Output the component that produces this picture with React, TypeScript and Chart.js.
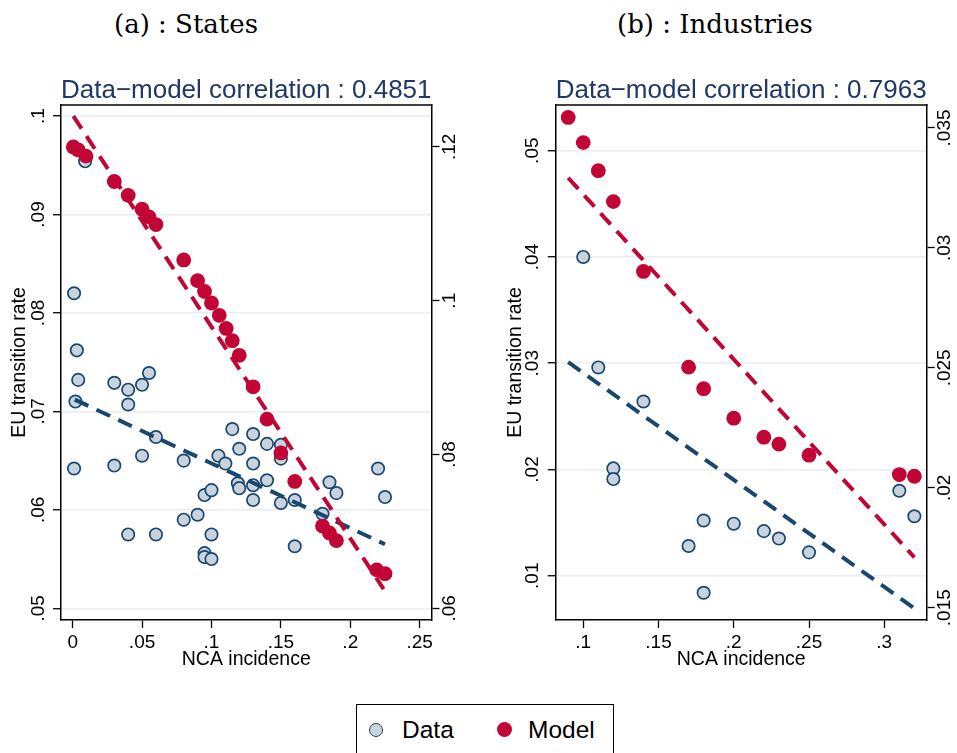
import React, { useEffect, useRef } from "react";
import { Chart, registerables } from "chart.js";
Chart.register(...registerables);

// ---------- Panel (a): States ----------
const statesDataX = [0.009, 0.001, 0.003, 0.004, 0.002, 0.001, 0.030, 0.040, 0.040, 0.050, 0.055, 0.030, 0.050, 0.060, 0.040, 0.060, 0.080, 0.080, 0.090, 0.095, 0.100, 0.100, 0.095, 0.095, 0.100, 0.105, 0.110, 0.115, 0.120, 0.119, 0.120, 0.130, 0.130, 0.130, 0.130, 0.140, 0.140, 0.150, 0.150, 0.150, 0.160, 0.160, 0.180, 0.185, 0.190, 0.220, 0.225];
const statesDataY = [0.0954, 0.0820, 0.0762, 0.0732, 0.0710, 0.0642, 0.0729, 0.0722, 0.0707, 0.0727, 0.0739, 0.0645, 0.0655, 0.0674, 0.0575, 0.0575, 0.0650, 0.0590, 0.0595, 0.0615, 0.0620, 0.0575, 0.0556, 0.0552, 0.0550, 0.0655, 0.0647, 0.0682, 0.0662, 0.0627, 0.0622, 0.0677, 0.0647, 0.0625, 0.0610, 0.0667, 0.0630, 0.0666, 0.0652, 0.0607, 0.0563, 0.0610, 0.0596, 0.0628, 0.0617, 0.0642, 0.0613];
const statesModelX = [0.0005, 0.004, 0.0096, 0.030, 0.040, 0.050, 0.055, 0.060, 0.080, 0.090, 0.095, 0.100, 0.1056, 0.1106, 0.115, 0.120, 0.130, 0.140, 0.150, 0.160, 0.180, 0.185, 0.190, 0.219, 0.225];
const statesModelY = [0.1200, 0.1196, 0.1188, 0.1155, 0.1137, 0.1119, 0.1109, 0.1099, 0.1053, 0.1026, 0.1012, 0.0997, 0.0981, 0.0964, 0.0948, 0.0929, 0.0888, 0.0846, 0.0802, 0.0765, 0.0707, 0.0698, 0.0688, 0.0650, 0.0645];
const statesDataFitX = [0.0015, 0.225];
const statesDataFitY = [0.0712, 0.0565];
const statesModelFitX = [0.0005, 0.224];
const statesModelFitY = [0.124, 0.0625];
const statesXTicks = [0, 0.05, 0.1, 0.15, 0.2, 0.25];
const statesXTickLabels = ["0", ".05", ".1", ".15", ".2", ".25"];
const statesLeftTicks = [0.05, 0.06, 0.07, 0.08, 0.09, 0.1];
const statesLeftTickLabels = [".05", ".06", ".07", ".08", ".09", ".1"];
const statesRightTicks = [0.06, 0.08, 0.1, 0.12];
const statesRightTickLabels = [".06", ".08", ".1", ".12"];
const statesTitle = "(a) : States";
const statesCorr = "Data\u2212model correlation : 0.4851";

// ---------- Panel (b): Industries ----------
const indDataX = [0.10, 0.11, 0.14, 0.12, 0.12, 0.17, 0.18, 0.18, 0.20, 0.22, 0.23, 0.25, 0.31, 0.32];
const indDataY = [0.0400, 0.0296, 0.0264, 0.0201, 0.0191, 0.0128, 0.0152, 0.0084, 0.0149, 0.0142, 0.0135, 0.0122, 0.0180, 0.0156];
const indModelX = [0.09, 0.10, 0.11, 0.12, 0.14, 0.17, 0.18, 0.20, 0.22, 0.23, 0.25, 0.31, 0.32];
const indModelY = [0.03544, 0.03439, 0.03322, 0.03193, 0.02902, 0.02503, 0.02413, 0.02290, 0.02211, 0.02182, 0.02136, 0.02055, 0.02048];
const indDataFitX = [0.09, 0.32];
const indDataFitY = [0.0301, 0.00694];
const indModelFitX = [0.09, 0.32];
const indModelFitY = [0.03292, 0.0171];
const indXTicks = [0.1, 0.15, 0.2, 0.25, 0.3];
const indXTickLabels = [".1", ".15", ".2", ".25", ".3"];
const indLeftTicks = [0.01, 0.02, 0.03, 0.04, 0.05];
const indLeftTickLabels = [".01", ".02", ".03", ".04", ".05"];
const indRightTicks = [0.015, 0.02, 0.025, 0.03, 0.035];
const indRightTickLabels = [".015", ".02", ".025", ".03", ".035"];
const indTitle = "(b) : Industries";
const indCorr = "Data\u2212model correlation : 0.7963";

const seriesNames = ["Data", "Model"];
const xAxisTitle = "NCA incidence";
const yAxisTitle = "EU transition rate";

// ---------- styles ----------
const NAVY = "#1a476f";
const FILL = "#c8d3de";
const RED = "#c10534";
const GRID = "#e8eef2";
const TITLE_COLOR = "#1f3864";
const SANS = "Liberation Sans, Arial, sans-serif";

type PanelSpec = {
  dataX: number[]; dataY: number[]; modelX: number[]; modelY: number[];
  dataFitX: number[]; dataFitY: number[]; modelFitX: number[]; modelFitY: number[];
  xTicks: number[]; xLabels: string[]; lTicks: number[]; lLabels: string[]; rTicks: number[]; rLabels: string[];
  corr: string;
  xMin: number; xMax: number; lMin: number; lMax: number; rMin: number; rMax: number;
  leftW: number; rightW: number; yTitlePad: number; lTickPad: number; rTickPad: number;
};

const pts = (xs: number[], ys: number[]) => xs.map((x, i) => ({ x, y: ys[i] }));
const labelFor = (vals: number[], labels: string[]) => (v: any) => {
  const i = vals.findIndex((t) => Math.abs(t - Number(v)) < 1e-9);
  return i >= 0 ? labels[i] : "";
};
const setTicks = (vals: number[]) => (scale: any) => {
  scale.ticks = vals.map((v) => ({ value: v }));
};

const framePlugin = {
  id: "frameTop",
  afterDraw(chart: any) {
    const { ctx, chartArea } = chart;
    ctx.save();
    ctx.strokeStyle = "#000";
    ctx.lineWidth = 1.5;
    ctx.beginPath();
    ctx.moveTo(chartArea.left - 0.75, chartArea.top);
    ctx.lineTo(chartArea.right + 0.75, chartArea.top);
    ctx.stroke();
    ctx.restore();
  },
};

function Panel({ spec, left, width }: { spec: PanelSpec; left: number; width: number }) {
  const ref = useRef<HTMLCanvasElement | null>(null);
  useEffect(() => {
    if (!ref.current) return;
    const tickFont = { family: SANS, size: 19 };
    const chart = new Chart(ref.current, {
      type: "scatter",
      data: {
        datasets: [
          {
            label: seriesNames[0], data: pts(spec.dataX, spec.dataY), yAxisID: "y",
            pointRadius: 6.2, pointBackgroundColor: FILL, pointBorderColor: NAVY, pointBorderWidth: 1.7, order: 4,
          },
          {
            label: seriesNames[1], data: pts(spec.modelX, spec.modelY), yAxisID: "y1",
            pointRadius: 7.4, pointBackgroundColor: RED, pointBorderColor: RED, pointBorderWidth: 0, order: 3,
          },
          {
            label: "Data fit", data: pts(spec.dataFitX, spec.dataFitY), yAxisID: "y", showLine: true,
            pointRadius: 0, borderColor: NAVY, borderWidth: 4, borderDash: [15, 9], borderCapStyle: "butt", order: 2,
          },
          {
            label: "Model fit", data: pts(spec.modelFitX, spec.modelFitY), yAxisID: "y1", showLine: true,
            pointRadius: 0, borderColor: RED, borderWidth: 4, borderDash: [15, 9], borderCapStyle: "butt", order: 1,
          },
        ] as any,
      },
      options: {
        responsive: false,
        animation: false,
        events: [],
        layout: { padding: 0 },
        plugins: {
          legend: { display: false },
          tooltip: { enabled: false },
          title: {
            display: true, text: spec.corr, fullSize: false, color: TITLE_COLOR,
            font: { family: SANS, size: 26.5, weight: "normal", lineHeight: 1 },
            padding: { top: 77, bottom: 1.5 },
          },
        },
        scales: {
          x: {
            type: "linear", position: "bottom", min: spec.xMin, max: spec.xMax, bounds: "data",
            afterBuildTicks: setTicks(spec.xTicks),
            afterFit: (s: any) => { s.height = 80; },
            ticks: { callback: labelFor(spec.xTicks, spec.xLabels), font: tickFont, color: "#000", padding: 3, autoSkip: false, maxRotation: 0, minRotation: 0 },
            grid: { drawOnChartArea: false, drawTicks: true, tickLength: 8, tickColor: "#000", tickWidth: 1.3 },
            border: { display: true, color: "#000", width: 1.5 },
            title: { display: true, text: xAxisTitle, color: "#000", font: { family: SANS, size: 19.5, lineHeight: 1 }, padding: { top: 0, bottom: 31 } },
          },
          y: {
            type: "linear", position: "left", min: spec.lMin, max: spec.lMax, bounds: "data",
            afterBuildTicks: setTicks(spec.lTicks),
            afterFit: (s: any) => { s.width = spec.leftW; },
            ticks: { callback: labelFor(spec.lTicks, spec.lLabels), font: tickFont, color: "#000", padding: spec.lTickPad, autoSkip: false, minRotation: 90, maxRotation: 90, crossAlign: "center" },
            grid: { drawOnChartArea: true, color: GRID, lineWidth: 1.5, drawTicks: true, tickLength: 8, tickColor: "#000", tickWidth: 1.3 },
            border: { display: true, color: "#000", width: 1.5 },
            title: { display: true, text: yAxisTitle, color: "#000", font: { family: SANS, size: 19.5, lineHeight: 1 }, padding: { top: spec.yTitlePad, bottom: 0 } },
          },
          y1: {
            type: "linear", position: "right", min: spec.rMin, max: spec.rMax, bounds: "data",
            afterBuildTicks: setTicks(spec.rTicks),
            afterFit: (s: any) => { s.width = spec.rightW; },
            ticks: { callback: labelFor(spec.rTicks, spec.rLabels), font: tickFont, color: "#000", padding: spec.rTickPad, autoSkip: false, minRotation: 90, maxRotation: 90, crossAlign: "center" },
            grid: { drawOnChartArea: false, drawTicks: true, tickLength: 8, tickColor: "#000", tickWidth: 1.3 },
            border: { display: true, color: "#000", width: 1.5 },
          },
        },
      } as any,
      plugins: [framePlugin],
    });
    return () => chart.destroy();
  }, [spec]);
  return (
    <canvas ref={ref} width={width} height={700}
      style={{ position: "absolute", left, top: 0, width, height: 700, display: "block" }} />
  );
}

const statesSpec: PanelSpec = {
  dataX: statesDataX, dataY: statesDataY, modelX: statesModelX, modelY: statesModelY,
  dataFitX: statesDataFitX, dataFitY: statesDataFitY, modelFitX: statesModelFitX, modelFitY: statesModelFitY,
  xTicks: statesXTicks, xLabels: statesXTickLabels, lTicks: statesLeftTicks, lLabels: statesLeftTickLabels,
  rTicks: statesRightTicks, rLabels: statesRightTickLabels, corr: statesCorr,
  xMin: -0.0084, xMax: 0.2585, lMin: 0.04881, lMax: 0.10112, rMin: 0.05848, rMax: 0.12545,
  leftW: 61, rightW: 46.5, yTitlePad: 9.5, lTickPad: 1, rTickPad: -3,
};

const indSpec: PanelSpec = {
  dataX: indDataX, dataY: indDataY, modelX: indModelX, modelY: indModelY,
  dataFitX: indDataFitX, dataFitY: indDataFitY, modelFitX: indModelFitX, modelFitY: indModelFitY,
  xTicks: indXTicks, xLabels: indXTickLabels, lTicks: indLeftTicks, lLabels: indLeftTickLabels,
  rTicks: indRightTicks, rLabels: indRightTickLabels, corr: indCorr,
  xMin: 0.0817, xMax: 0.3282, lMin: 0.005836, lMax: 0.0543, rMin: 0.014488, rMax: 0.035958,
  leftW: 77.7, rightW: 30.3, yTitlePad: 27.5, lTickPad: 2.2, rTickPad: -8.2,
};

export default function App() {
  const panelTitle: React.CSSProperties = {
    position: "absolute", top: 6, fontFamily: "DejaVu Serif, serif", fontSize: 26, color: "#000",
    whiteSpace: "nowrap", transform: "translateX(-50%)", lineHeight: "36px",
  };
  const legendText: React.CSSProperties = {
    position: "absolute", top: 10, fontFamily: SANS, fontSize: 24.5, lineHeight: "30px", color: "#000",
  };
  return (
    <div style={{ position: "absolute", left: 0, top: 0, width: 957, height: 753, overflow: "hidden", background: "#fff" }}>
      <div style={{ ...panelTitle, left: 186 }}>{statesTitle}</div>
      <div style={{ ...panelTitle, left: 715 }}>{indTitle}</div>
      <Panel spec={statesSpec} left={0} width={478} />
      <Panel spec={indSpec} left={478} width={479} />
      <div style={{ position: "absolute", left: 356, top: 704, width: 258, height: 70, border: "1.5px solid #000", boxSizing: "border-box", background: "#fff" }}>
        <span style={{ position: "absolute", left: 12, top: 18, width: 12, height: 12, borderRadius: "50%", background: FILL, border: `1.7px solid ${NAVY}` }} />
        <span style={{ ...legendText, left: 45 }}>{seriesNames[0]}</span>
        <span style={{ position: "absolute", left: 140, top: 17, width: 15, height: 15, borderRadius: "50%", background: RED }} />
        <span style={{ ...legendText, left: 171 }}>{seriesNames[1]}</span>
      </div>
    </div>
  );
}
